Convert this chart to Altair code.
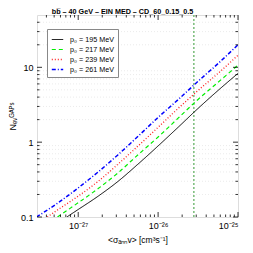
import altair as alt
import pandas as pd

title_text = ["bb̅ – 40 GeV – EIN MED – CD_60_0.15_0.5"]
labels = ["p₀ = 195 MeV", "p₀ = 217 MeV", "p₀ = 239 MeV", "p₀ = 261 MeV"]
colors = ["#000000", "#00ee00", "#ff2020", "#0000ff"]
dashes = [[1, 0], [4, 3], [1, 2], [4, 2, 1, 2]]
widths = [1.0, 1.5, 1.3, 1.3]

sigma_195 = [7.2e-28, 1e-27, 1.78e-27, 3.16e-27, 5.62e-27, 1e-26, 1.78e-26, 3.16e-26, 5.62e-26, 1e-25]
n_195 = [0.10, 0.126, 0.19, 0.30, 0.51, 0.89, 1.58, 2.82, 4.9, 8.3]
sigma_217 = [5.5e-28, 1e-27, 1.78e-27, 3.16e-27, 5.62e-27, 1e-26, 1.78e-26, 3.16e-26, 5.62e-26, 1e-25]
n_217 = [0.10, 0.155, 0.24, 0.39, 0.68, 1.17, 2.09, 3.72, 6.3, 10.7]
sigma_239 = [4.1e-28, 5.62e-28, 1e-27, 1.78e-27, 3.16e-27, 5.62e-27, 1e-26, 1.78e-26, 3.16e-26, 5.62e-26, 1e-25]
n_239 = [0.10, 0.126, 0.19, 0.30, 0.51, 0.89, 1.58, 2.82, 4.9, 8.3, 14.5]
sigma_261 = [3.0e-28, 5.62e-28, 1e-27, 1.78e-27, 3.16e-27, 5.62e-27, 1e-26, 1.78e-26, 3.16e-26, 5.62e-26, 1e-25]
n_261 = [0.10, 0.155, 0.245, 0.40, 0.68, 1.2, 2.14, 3.7, 6.5, 11.2, 20.0]

vline_sigma = [2.8e-26]

x_major = [1e-27, 1e-26, 1e-25]
x_minor = [4e-28, 5e-28, 6e-28, 7e-28, 8e-28, 9e-28,
           2e-27, 3e-27, 4e-27, 5e-27, 6e-27, 7e-27, 8e-27, 9e-27,
           2e-26, 3e-26, 4e-26, 5e-26, 6e-26, 7e-26, 8e-26, 9e-26]
y_major = [0.1, 1, 10]
y_minor = [0.2, 0.3, 0.4, 0.5, 0.6, 0.7, 0.8, 0.9,
           2, 3, 4, 5, 6, 7, 8, 9, 20, 30, 40]

W, H = 201, 202
FONT = "Liberation Sans"

rows = []
for lab, xs, ys in zip(labels, [sigma_195, sigma_217, sigma_239, sigma_261],
                       [n_195, n_217, n_239, n_261]):
    for i, (a, b) in enumerate(zip(xs, ys)):
        rows.append({"label": lab, "sigma": a, "n": b, "order": i})
curves_df = pd.DataFrame(rows)

xscale = alt.Scale(type="log", domain=[3.05e-28, 1e-25])
yscale = alt.Scale(type="log", domain=[0.1, 50])

x_label_expr = ("round(log(datum.value)/LN10) == -27 ? '10⁻²⁷' : "
                "round(log(datum.value)/LN10) == -26 ? '10⁻²⁶' : '10⁻²⁵'")

curves = alt.Chart(curves_df).mark_line(clip=True, interpolate="monotone").encode(
    x=alt.X("sigma:Q", scale=xscale,
            axis=alt.Axis(values=x_major, labelExpr=x_label_expr, tickSize=0,
                          domain=False, grid=False, labelFontSize=9, labelFont=FONT,
                          labelColor="#000", labelPadding=4,
                          title="<σₐₙₙv>  [cm³s⁻¹]", titleFontSize=8.5,
                          titleFont=FONT, titleFontWeight="normal", titlePadding=5,
                          titleColor="#000")),
    y=alt.Y("n:Q", scale=yscale,
            axis=alt.Axis(values=y_major, format="~g", tickSize=0, domain=False,
                          grid=False, labelFontSize=9, labelFont=FONT, labelColor="#000",
                          labelPadding=4, title="Nₑᵥᴳᴬᴾˢ", titleFontSize=9,
                          titleFont=FONT, titleFontWeight="normal", titlePadding=3,
                          titleColor="#000")),
    color=alt.Color("label:N", scale=alt.Scale(domain=labels, range=colors),
                    legend=alt.Legend(title=None, orient="none", legendX=10, legendY=14,
                                      fillColor="white", strokeColor="#888888",
                                      padding=4, labelFont=FONT, labelFontSize=7.2,
                                      labelColor="#000", symbolType="stroke",
                                      symbolSize=130, symbolStrokeWidth=1.5,
                                      rowPadding=0, labelOffset=6)),
    strokeDash=alt.StrokeDash("label:N", scale=alt.Scale(domain=labels, range=dashes),
                              legend=None),
    strokeWidth=alt.StrokeWidth("label:N", scale=alt.Scale(domain=labels, range=widths),
                                legend=None),
    order="order:Q",
)

grid = alt.Chart(pd.DataFrame({"n": y_minor})).mark_rule(
    color="#dddddd", strokeWidth=0.6, strokeDash=[1, 2]).encode(
    y=alt.Y("n:Q", scale=yscale), x=alt.value(0), x2=alt.value(W))

vline = alt.Chart(pd.DataFrame({"sigma": vline_sigma})).mark_rule(
    color="#80c080", strokeWidth=1.6, strokeDash=[2, 2]).encode(
    x=alt.X("sigma:Q", scale=xscale), y=alt.value(0), y2=alt.value(H))

title = alt.Chart(pd.DataFrame({"t": title_text})).mark_text(
    font=FONT, fontSize=7.2, fontWeight="bold", color="#000",
    baseline="alphabetic", align="center").encode(
    text="t:N", x=alt.value(W / 2 - 15), y=alt.value(-1.5))

def xticks(vals, L):
    d = pd.DataFrame({"sigma": vals})
    bot = alt.Chart(d).mark_rule(color="#000", strokeWidth=0.8).encode(
        x=alt.X("sigma:Q", scale=xscale), y=alt.value(H), y2=alt.value(H - L))
    top = alt.Chart(d).mark_rule(color="#000", strokeWidth=0.8).encode(
        x=alt.X("sigma:Q", scale=xscale), y=alt.value(0), y2=alt.value(L))
    return [bot, top]

def yticks(vals, L):
    d = pd.DataFrame({"n": vals})
    lft = alt.Chart(d).mark_rule(color="#000", strokeWidth=0.8).encode(
        y=alt.Y("n:Q", scale=yscale), x=alt.value(0), x2=alt.value(L))
    rgt = alt.Chart(d).mark_rule(color="#000", strokeWidth=0.8).encode(
        y=alt.Y("n:Q", scale=yscale), x=alt.value(W), x2=alt.value(W - L))
    return [lft, rgt]

layers = [grid, vline, curves, title] + xticks(x_major, 5) + xticks(x_minor, 2.5) \
    + yticks(y_major, 5) + yticks(y_minor, 2.5)

chart = alt.layer(*layers).properties(
    width=W, height=H,
    autosize=alt.AutoSizeParams(type="none"),
    padding={"left": 29, "top": 7, "right": 5, "bottom": 28},
).resolve_scale(color="shared").configure_view(
    stroke="#000", strokeWidth=1
).configure(background="white")

chart.save("out.html", embed_options={"renderer": "svg", "actions": False})
